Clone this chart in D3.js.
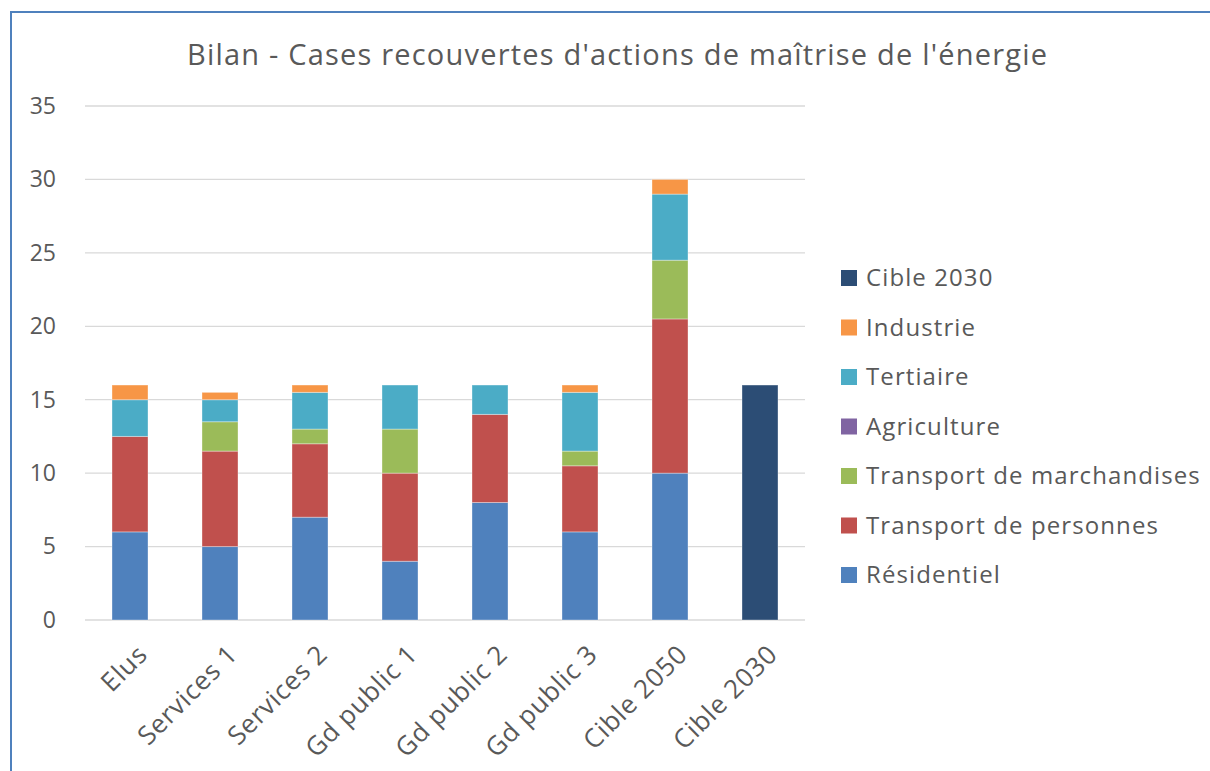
<!DOCTYPE html>
<html lang="fr">
	<head>
		<meta charset="utf-8">
		<title>Bilan - Cases recouvertes</title>
		<script src="https://d3js.org/d3.v7.min.js"></script>
		<style>
			body {
				margin: 0;
				background: #ffffff;
			}
			text {
				font-family: "Open Sans", sans-serif;
				fill: #595959;
			}
		</style>
	</head>
	<body>
		<div id="chart"></div>
		<script type="text/javascript">
			// data
			var categories = ["Elus","Services 1","Services 2","Gd public 1","Gd public 2","Gd public 3","Cible 2050","Cible 2030"];
			var residentiel = [6,5,7,4,8,6,10,0];
			var transportPersonnes = [6.5,6.5,5,6,6,4.5,10.5,0];
			var transportMarchandises = [0,2,1,3,0,1,4,0];
			var agriculture = [0,0,0,0,0,0,0,0];
			var tertiaire = [2.5,1.5,2.5,3,2,4,4.5,0];
			var industrie = [1,0.5,0.5,0,0,0.5,1,0];
			var cible2030 = [0,0,0,0,0,0,0,16];
			var yTicks = [0,5,10,15,20,25,30,35];

			var seriesNames = ["Résidentiel","Transport de personnes","Transport de marchandises","Agriculture","Tertiaire","Industrie","Cible 2030"];
			var seriesValues = [residentiel,transportPersonnes,transportMarchandises,agriculture,tertiaire,industrie,cible2030];
			var seriesColors = ["#4f81bd","#c0504d","#9bbb59","#8064a2","#4bacc6","#f79646","#2c4d75"];

			var w = 1210;
			var h = 771;
			var plotLeft = 85, plotRight = 805, plotTop = 106, plotBottom = 620;

			var svg = d3.select("#chart").append("svg").attr("width",w).attr("height",h);

			// frame
			svg.append("path").attr("d","M11,771 V12 H1210").attr("fill","none").attr("stroke","#4f81bd").attr("stroke-width",2);

			// title
			svg.append("text").attr("x",617).attr("y",65).attr("text-anchor","middle")
				.attr("textLength",860).attr("lengthAdjust","spacing")
				.style("font-size","29px").text("Bilan - Cases recouvertes d'actions de maîtrise de l'énergie");

			var xScale = d3.scaleBand().domain(categories).range([plotLeft,plotRight]).paddingInner(0.6).paddingOuter(0.3);
			var yScale = d3.scaleLinear().domain([0,35]).range([plotBottom,plotTop]);

			// gridlines
			svg.append("g").selectAll("line").data(yTicks).enter().append("line")
				.attr("x1",plotLeft).attr("x2",plotRight)
				.attr("y1",function(d) { return yScale(d); }).attr("y2",function(d) { return yScale(d); })
				.attr("stroke","#d9d9d9").attr("stroke-width",1.3);

			// y axis labels
			var yAxis = d3.axisLeft(yScale).tickValues(yTicks).tickSize(0).tickPadding(0);
			var gy = svg.append("g").attr("transform","translate(56,0)").call(yAxis);
			gy.select(".domain").remove();
			gy.selectAll("text").style("font-size","23px").style("font-family","'Open Sans', sans-serif").attr("fill","#595959");

			// stacked data
			var table = categories.map(function(c,i) {
				var row = {cat: c};
				seriesNames.forEach(function(s,j) { row[s] = seriesValues[j][i]; });
				return row;
			});
			var stacked = d3.stack().keys(seriesNames)(table);

			svg.append("g").selectAll("g").data(stacked).enter().append("g")
				.attr("fill",function(d,i) { return seriesColors[i]; })
				.selectAll("rect").data(function(d) { return d.filter(function(p) { return p[1] > p[0]; }); }).enter().append("rect")
				.attr("x",function(d) { return xScale(d.data.cat); })
				.attr("y",function(d) { return yScale(d[1]); })
				.attr("width",xScale.bandwidth())
				.attr("height",function(d) { return yScale(d[0]) - yScale(d[1]); })
				.attr("stroke","#ffffff").attr("stroke-opacity",0.35).attr("stroke-width",1);

			// x axis labels
			var xAxis = d3.axisBottom(xScale).tickSize(0).tickPadding(0);
			var gx = svg.append("g").attr("transform","translate(0,"+plotBottom+")").call(xAxis);
			gx.select(".domain").remove();
			gx.selectAll("text")
				.style("font-size","26px").style("font-family","'Open Sans', sans-serif").attr("fill","#595959")
				.style("letter-spacing","0.8px")
				.attr("text-anchor","end")
				.attr("dy","0")
				.attr("transform","translate(19,36) rotate(-45)");

			// legend (top item is the last series)
			var legendOrder = seriesNames.map(function(s,i) { return i; }).reverse();
			var legend = svg.append("g").selectAll("g").data(legendOrder).enter().append("g")
				.attr("transform",function(d,i) { return "translate(841,"+(278+i*49.5)+")"; });
			legend.append("rect").attr("x",0).attr("y",-8).attr("width",16).attr("height",16)
				.attr("fill",function(d) { return seriesColors[d]; });
			legend.append("text").attr("x",25).attr("y",0).attr("dy","0.35em").style("font-size","24px")
				.style("letter-spacing","1.1px")
				.text(function(d) { return seriesNames[d]; });
		</script>
	</body>
</html>
